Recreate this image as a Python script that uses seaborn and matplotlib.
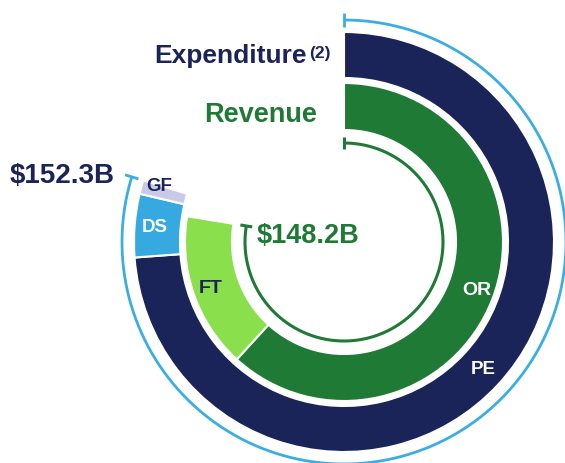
import numpy as np
import matplotlib
matplotlib.use('Agg')
import matplotlib.pyplot as plt
import seaborn as sns

# expenditure (outer ring) and revenue (inner ring), $B
exp_labels = ['PE', 'DS', 'GF']
exp_values = [141.0, 9.3, 2.0]
exp_total = 152.3

rev_labels = ['OR', 'FT']
rev_values = [118.0, 30.2]
rev_total = 148.2

FULL = 191.0  # value that would close the circle

NAVY = '#1b2459'
EXP_COLORS = [NAVY, '#36a9e1', '#c9c9ea']
REV_COLORS = ['#1f7a36', '#8ae04c']
EXP_TEXT = ['white', 'white', NAVY]
REV_TEXT = ['white', NAVY]
GREEN = '#1f7a36'
BLUE_ARC = '#3aaee2'

sns.set_theme(style='white')
plt.rcParams['font.family'] = ['Liberation Sans', 'DejaVu Sans']

W, H = 565, 463
fig = plt.figure(figsize=(W / 100, H / 100), dpi=100)

# centre of the rings in pixels (from top-left), radius units = pixels
cx, cy = 344, 242
R = 232
ax = fig.add_axes([(cx - R) / W, (H - cy - R) / H, 2 * R / W, 2 * R / H], projection='polar')
ax.set_theta_zero_location('N')
ax.set_theta_direction(-1)
ax.set_ylim(0, R)
ax.axis('off')


def to_angle(v):
    return np.asarray(v, dtype=float) / FULL * 2 * np.pi


def ring(values, colors, r_in, r_out):
    widths = to_angle(values)
    lefts = np.concatenate([[0], np.cumsum(widths)[:-1]])
    ax.bar(lefts, r_out - r_in, width=widths, bottom=r_in, align='edge',
           color=colors, edgecolor='white', linewidth=1.5)
    return lefts, widths


def total_arc(total, r, color, lw, tick=6):
    end = float(to_angle(total))
    th = np.linspace(0, end, 300)
    ax.plot(th, np.full_like(th, r), color=color, lw=lw, solid_capstyle='butt')
    for a in (0, end):
        ax.plot([a, a], [r - tick, r + tick], color=color, lw=lw, solid_capstyle='butt')


# outer ring: expenditure
lefts, widths = ring(exp_values, EXP_COLORS, 164, 210)
total_arc(exp_total, 222, BLUE_ARC, 2.0, tick=7)
for i, lab in enumerate(exp_labels):
    mid = lefts[i] + widths[i] / 2
    r = 190
    if lab == 'PE':
        mid, r = np.deg2rad(132.6), 189
    if lab == 'GF':
        mid, r = lefts[i] + widths[i] - np.deg2rad(0.3), 193
    ax.text(mid, r, lab, color=EXP_TEXT[i], fontsize=13.5,
            fontweight='bold', ha='center', va='center')

# inner ring: revenue
lefts, widths = ring(rev_values, REV_COLORS, 112, 159)
total_arc(rev_total, 99, GREEN, 2.2)
for i, lab in enumerate(rev_labels):
    mid = lefts[i] + widths[i] / 2
    if lab == 'OR':
        mid = np.deg2rad(110)
    ax.text(mid, 141, lab, color=REV_TEXT[i], fontsize=14, fontweight='bold',
            ha='center', va='center')


def ftext(x, y, s, **kw):
    fig.text(x / W, 1 - y / H, s, va='baseline', fontweight='bold', **kw)


ftext(307, 63, 'Expenditure', color=NAVY, fontsize=19, ha='right')
ftext(309, 58, '(2)', color=NAVY, fontsize=12.5, ha='left')
ftext(317, 122, 'Revenue', color=GREEN, fontsize=19.5, ha='right')
ftext(10, 183, f'${exp_total}B', color=NAVY, fontsize=20, ha='left')
ftext(257, 243, f'${rev_total}B', color=GREEN, fontsize=19.5, ha='left')

fig.savefig('out.png', dpi=100, facecolor='white')
